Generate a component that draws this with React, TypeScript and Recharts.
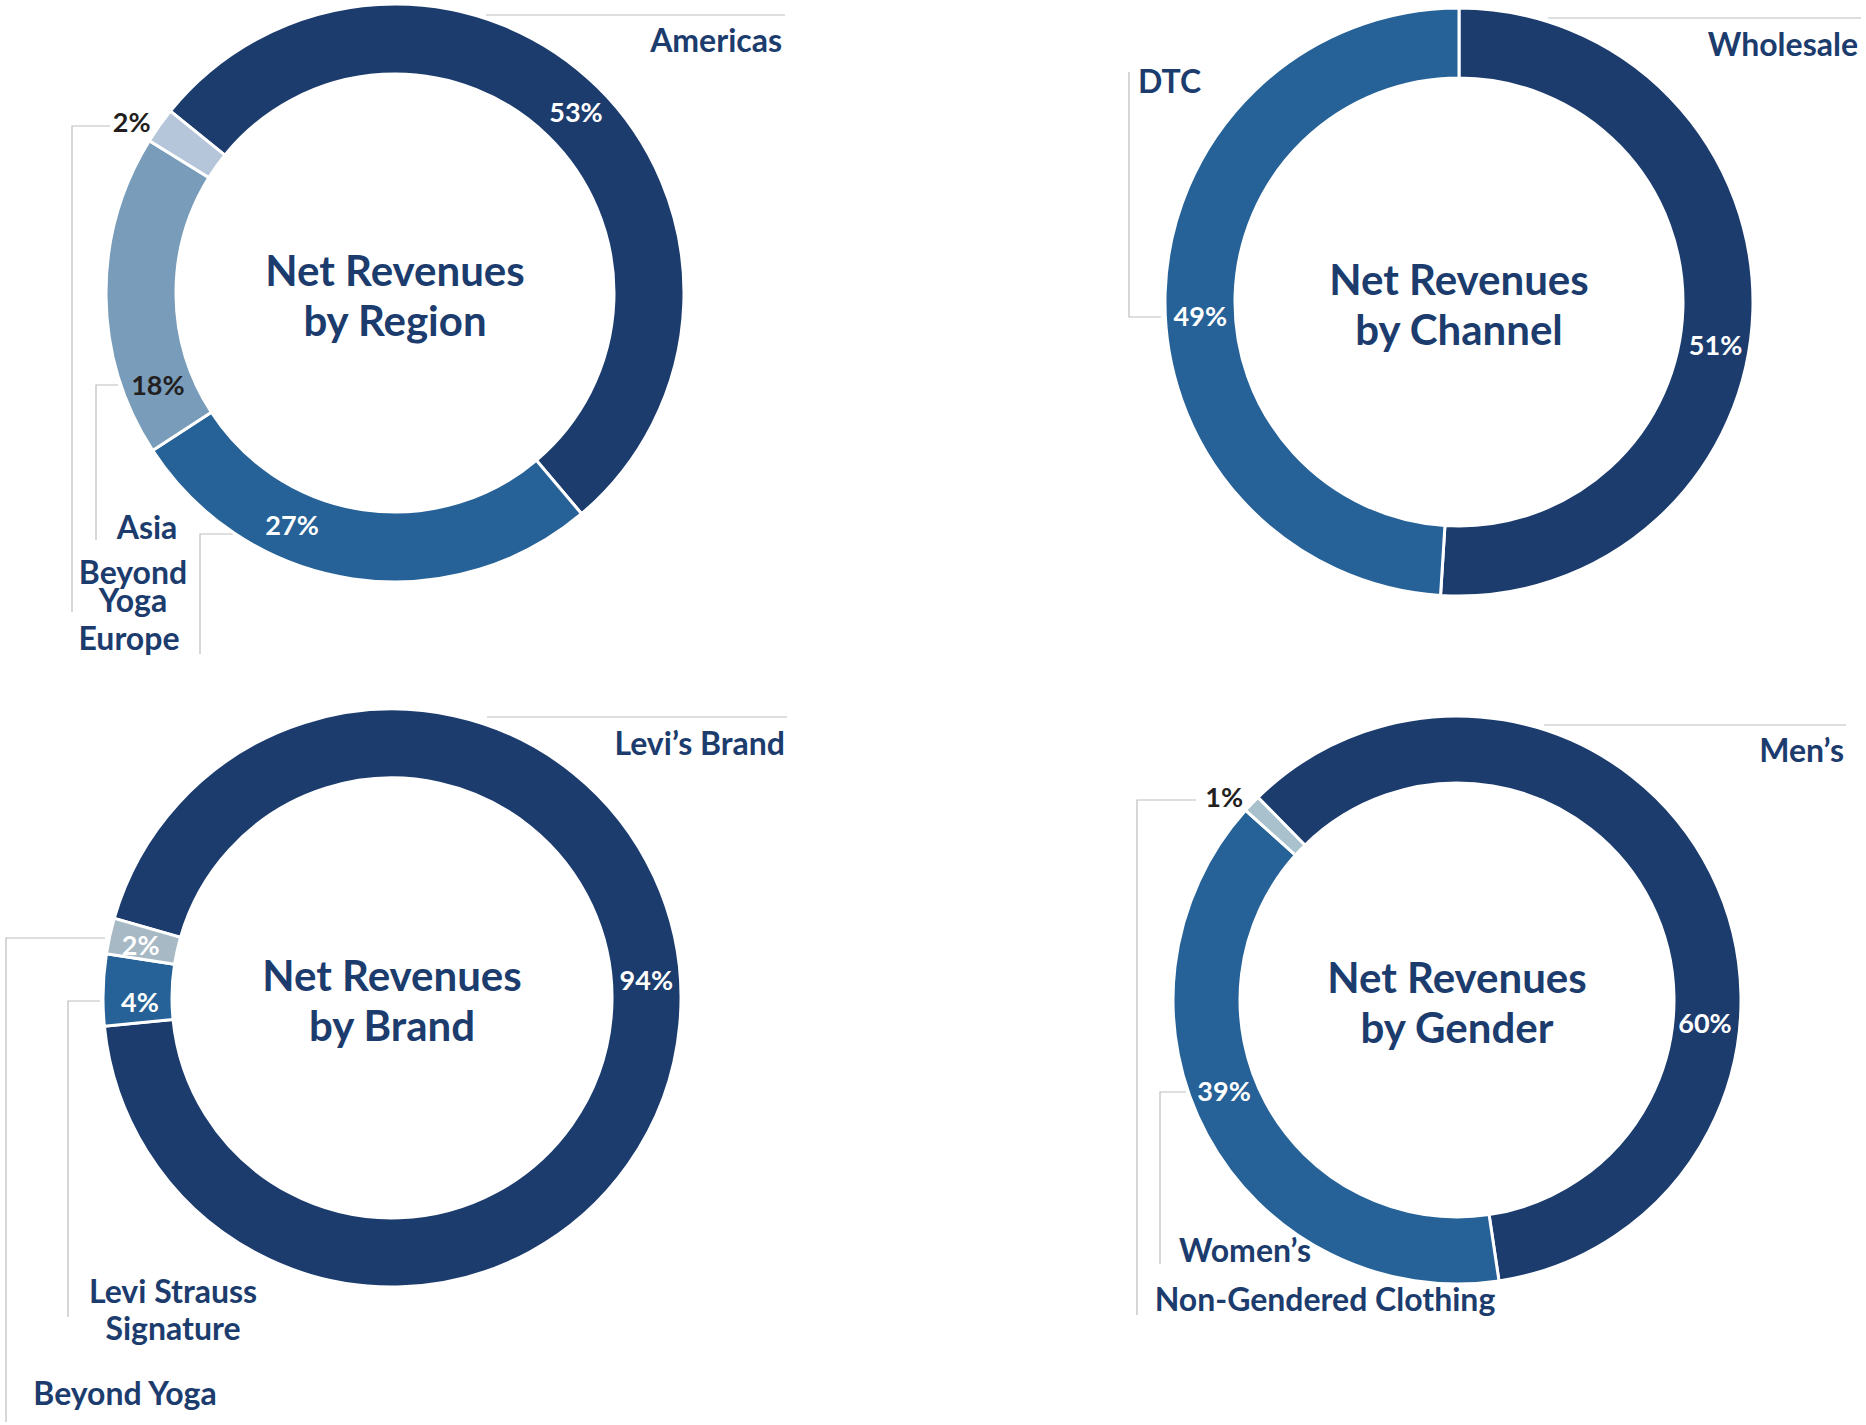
import React from 'react';
import { PieChart, Pie, Cell } from 'recharts';

const NAVY = '#1c3c6e';
const MID = '#266297';
const STEEL = '#789cb9';
const LIGHT = '#b5c6da';
const GREY = '#a7b9c5';
const PALE = '#a9c0cd';
const DARK = '#231f20';
const LEADER = '#bdbdbd';
const FONT = 'Lato, "Noto Sans", sans-serif';

// data
const regionNames = ['Americas', 'Europe', 'Asia', 'Beyond Yoga'];
const regionValues = [53, 27, 18, 2];
const channelNames = ['Wholesale', 'DTC'];
const channelValues = [51, 49];
const brandNames = ['Levi’s Brand', 'Levi Strauss Signature', 'Beyond Yoga'];
const brandValues = [94, 4, 2];
const genderNames = ['Men’s', 'Women’s', 'Non-Gendered Clothing'];
const genderValues = [60, 39, 1];

type Note = { lines: string[]; dx: number; dy: number; anchor: 'start' | 'middle' | 'end'; gap?: number };

interface Panel {
  key: string;
  title: string;
  names: string[];
  values: number[];
  colors: string[];
  cx: number;
  cy: number;
  inner: number;
  outer: number;
  start: number;
  // where each % label sits: angle (deg) and radius
  pct: { a: number; r: number; c: string }[];
  notes: Note[];
  leaders: number[][][];
}

const panels: Panel[] = [
  {
    key: 'region', title: 'by Region', names: regionNames, values: regionValues,
    colors: [NAVY, MID, STEEL, LIGHT],
    cx: 395, cy: 293, inner: 219, outer: 289, start: 141,
    pct: [
      { a: 45, r: 256, c: '#fff' },
      { a: -114, r: 253, c: '#fff' },
      { a: 201, r: 254, c: DARK },
      { a: 147, r: 314, c: DARK },
    ],
    notes: [
      { lines: ['Americas'], dx: 387, dy: -241, anchor: 'end' },
      { lines: ['Europe'], dx: -266, dy: 357, anchor: 'middle' },
      { lines: ['Asia'], dx: -248, dy: 246, anchor: 'middle' },
      { lines: ['Beyond', 'Yoga'], dx: -262, dy: 291, anchor: 'middle', gap: 28 },
    ],
    leaders: [
      [[91, -278], [390, -278]],
      [[-162, 241], [-195, 241], [-195, 361]],
      [[-277, 92], [-299, 92], [-299, 247]],
      [[-285, -167], [-323, -167], [-323, 319]],
    ],
  },
  {
    key: 'channel', title: 'by Channel', names: channelNames, values: channelValues,
    colors: [NAVY, MID],
    cx: 1459, cy: 302, inner: 224, outer: 294, start: 90,
    pct: [
      { a: -9.3, r: 260, c: '#fff' },
      { a: 183, r: 259, c: '#fff' },
    ],
    notes: [
      { lines: ['Wholesale'], dx: 399, dy: -246, anchor: 'end' },
      { lines: ['DTC'], dx: -321, dy: -209, anchor: 'start' },
    ],
    leaders: [
      [[89, -284], [402, -284]],
      [[-298, 15], [-330, 15], [-330, -230]],
    ],
  },
  {
    key: 'brand', title: 'by Brand', names: brandNames, values: brandValues,
    colors: [NAVY, MID, GREY],
    cx: 392, cy: 998, inner: 220, outer: 289, start: 164,
    pct: [
      { a: 4.1, r: 255, c: '#fff' },
      { a: 180.9, r: 252, c: '#fff' },
      { a: 167.9, r: 257, c: '#fff' },
    ],
    notes: [
      { lines: ['Levi’s Brand'], dx: 393, dy: -243, anchor: 'end' },
      { lines: ['Levi Strauss', 'Signature'], dx: -219, dy: 305, anchor: 'middle', gap: 37 },
      { lines: ['Beyond Yoga'], dx: -267, dy: 407, anchor: 'middle' },
    ],
    leaders: [
      [[95, -281], [395, -281]],
      [[-292, 3], [-324, 3], [-324, 319]],
      [[-287, -60], [-386, -60], [-386, 424]],
    ],
  },
  {
    key: 'gender', title: 'by Gender', names: genderNames, values: genderValues,
    colors: [NAVY, MID, PALE],
    cx: 1457, cy: 1000, inner: 217, outer: 284, start: 134.5,
    pct: [
      { a: -5.1, r: 249, c: '#fff' },
      { a: 201.3, r: 250, c: '#fff' },
      { a: 138.9, r: 309, c: DARK },
    ],
    notes: [
      { lines: ['Men’s'], dx: 387, dy: -238, anchor: 'end' },
      { lines: ['Women’s'], dx: -212, dy: 262, anchor: 'middle' },
      { lines: ['Non-Gendered Clothing'], dx: -132, dy: 311, anchor: 'middle' },
    ],
    leaders: [
      [[87, -275], [389, -275]],
      [[-271, 92], [-297, 92], [-297, 264]],
      [[-261, -200], [-320, -200], [-320, 315]],
    ],
  },
];

const RAD = Math.PI / 180;

function pctLabel(panel: Panel) {
  return (p: any) => {
    const s = panel.pct[p.index];
    const x = panel.cx + s.r * Math.cos(s.a * RAD);
    const y = panel.cy - s.r * Math.sin(s.a * RAD);
    return (
      <text key={`${panel.key}-pct-${p.index}`} x={x} y={y} textAnchor="middle" dominantBaseline="central"
        fill={s.c} fontSize={27} fontWeight={700} fontFamily={FONT}>
        {panel.values[p.index]}%
      </text>
    );
  };
}

function Annotations({ panel }: { panel: Panel }) {
  const { cx, cy } = panel;
  return (
    <g>
      <text x={cx} y={cy - 7} textAnchor="middle" fill={NAVY} fontSize={42} fontWeight={700} fontFamily={FONT}>Net Revenues</text>
      <text x={cx} y={cy + 43} textAnchor="middle" fill={NAVY} fontSize={42} fontWeight={700} fontFamily={FONT}>{panel.title}</text>
      {panel.leaders.map((pts, i) => (
        <polyline key={i} points={pts.map(([x, y]) => `${cx + x},${cy + y}`).join(' ')}
          fill="none" stroke={LEADER} strokeWidth={1.2} />
      ))}
      {panel.notes.map((n, i) => (
        <text key={i} x={cx + n.dx} y={cy + n.dy} textAnchor={n.anchor} fill={NAVY}
          fontSize={32} fontWeight={700} fontFamily={FONT}>
          {n.lines.map((ln, j) => (
            <tspan key={j} x={cx + n.dx} dy={j === 0 ? 0 : n.gap ?? 32}>{ln}</tspan>
          ))}
        </text>
      ))}
    </g>
  );
}

export default function App() {
  return (
    <div style={{ position: 'absolute', left: 0, top: 0, width: 1866, height: 1425, background: '#fff' }}>
      <PieChart width={1866} height={1425} margin={{ top: 0, right: 0, bottom: 0, left: 0 }}>
        {panels.map((panel) => (
          <Pie
            key={panel.key}
            data={panel.names.map((name, i) => ({ name, value: panel.values[i] }))}
            dataKey="value"
            nameKey="name"
            cx={panel.cx}
            cy={panel.cy}
            innerRadius={panel.inner}
            outerRadius={panel.outer}
            startAngle={panel.start}
            endAngle={panel.start - 360}
            stroke="#fff"
            strokeWidth={3}
            label={pctLabel(panel)}
            labelLine={false}
            isAnimationActive={false}
          >
            {panel.names.map((n, i) => (
              <Cell key={n} fill={panel.colors[i]} />
            ))}
          </Pie>
        ))}
        {panels.map((panel) => (
          <Annotations key={`a-${panel.key}`} panel={panel} />
        ))}
      </PieChart>
    </div>
  );
}
